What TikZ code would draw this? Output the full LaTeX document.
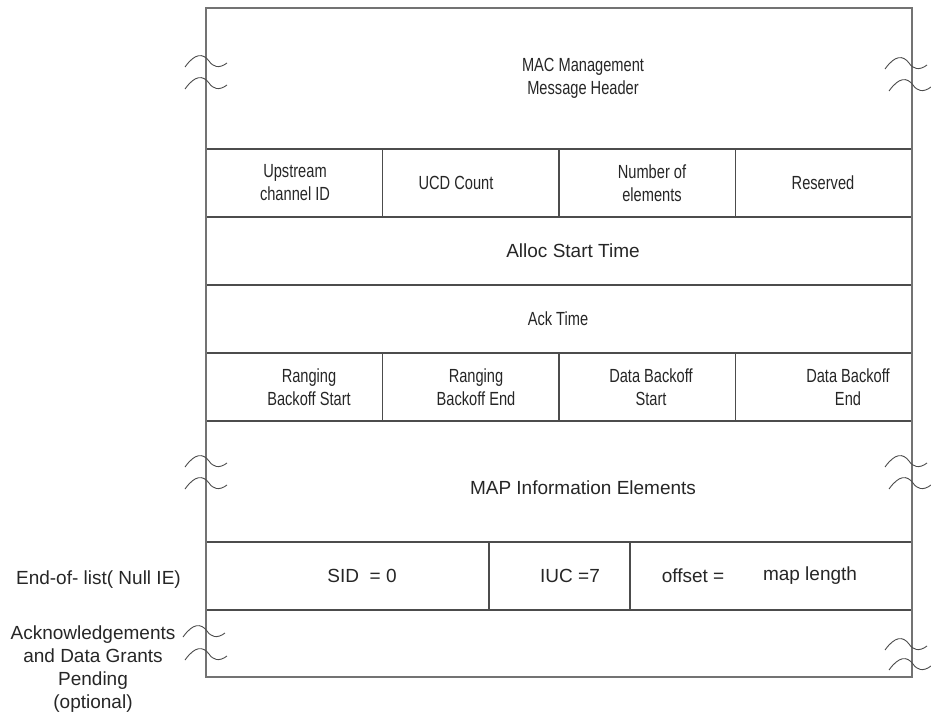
\documentclass[tikz,border=0pt]{standalone}
\usepackage{fontspec}
\setmainfont{Liberation Sans}
\newfontfamily\narrowf[FakeStretch=0.77]{Liberation Sans}
\begin{document}
\begin{tikzpicture}[x=1pt,y=-1pt,
  frame/.style={draw=black!55,line width=1.3pt},
  rule/.style={draw=black!70,line width=1.3pt},
  lbl/.style={font=\fontsize{19}{23}\selectfont,align=center,text=black!85,inner sep=0pt},
  nlbl/.style={font=\narrowf\fontsize{19}{23}\selectfont,align=center,text=black!85,inner sep=0pt},
  wave/.style={draw=black!70,line width=0.9pt}]
\useasboundingbox (0,0) rectangle (931,719);
% horizontal rules
\foreach \y in {149,217,285,353,421,542,610}
  \draw[rule] (206,\y) -- (912,\y);
% vertical dividers
\foreach \x in {382.5,559,735.5}{
  \draw[rule] (\x,149) -- (\x,217);
  \draw[rule] (\x,353) -- (\x,421);}
\draw[rule] (489,542) -- (489,610);
\draw[rule] (630,542) -- (630,610);
\draw[frame] (206,8) rectangle (912,677);
% waves
\foreach \cx/\cy in {207/61,207/83,907/63,911/85,
                     207/461,207/483,907/461,911/483,
                     205/631,207/654,907/644,911/664}
  \draw[wave] (\cx-22,\cy+6) .. controls (\cx-12,\cy-8) and (\cx-4,\cy-8) .. (\cx+2,\cy)
      .. controls (\cx+6,\cy+6) and (\cx+12,\cy+8) .. (\cx+20,\cy+2);
% texts
\node[nlbl] (hdr) at (583,78) {MAC Management\\Message Header};
\node[nlbl] (usid) at (295,183) {Upstream\\channel ID};
\node[nlbl] (ucd) at (456,183) {UCD Count};
\node[nlbl] (noe) at (652,183) {Number of\\elements};
\node[nlbl] (res) at (823,183) {Reserved};
\node[lbl] (alloc) at (573,251) {Alloc Start Time};
\node[nlbl] (ack) at (558,319) {Ack Time};
\node[nlbl] (rbs) at (309,387) {Ranging\\Backoff Start};
\node[nlbl] (rbe) at (476,387) {Ranging\\Backoff End};
\node[nlbl] (dbs) at (651,387) {Data Backoff\\Start};
\node[nlbl] (dbe) at (848,387) {Data Backoff\\End};
\node[lbl] (map) at (583,488) {MAP Information Elements};
\node[lbl] (sid) at (362,576) {SID\ \ = 0};
\node[lbl] (iuc) at (570,576) {IUC =7};
\node[lbl] (off) at (693,576) {offset =};
\node[lbl] (mapl) at (810,576) {map length};
\node[lbl,anchor=east] (eol) at (181,580) {End-of- list( Null IE)};
\node[lbl] (ackg) at (93,669) {Acknowledgements\\and Data Grants\\Pending\\(optional)};
\end{tikzpicture}
\end{document}
